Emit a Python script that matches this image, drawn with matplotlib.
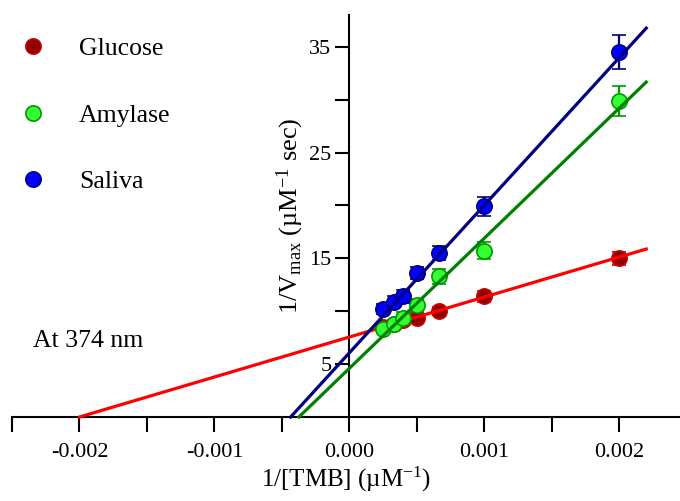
import numpy as np
import matplotlib
matplotlib.use('Agg')
import matplotlib.pyplot as plt
from matplotlib.lines import Line2D

plt.rcParams['font.family'] = ['Liberation Serif', 'DejaVu Serif']
plt.rcParams['mathtext.fontset'] = 'custom'
plt.rcParams['mathtext.rm'] = 'Liberation Serif'
plt.rcParams['mathtext.it'] = 'Liberation Serif:italic'
plt.rcParams['axes.unicode_minus'] = False

# 1/[TMB] values (uM^-1)
inv_tmb = [1/4000, 1/3000, 1/2500, 1/2000, 1/1500, 1/1000, 1/500]

# 1/Vmax values
glucose = [8.5, 8.8, 9.2, 9.4, 10.0, 11.4, 15.0]
glucose_err = [0.4, 0.4, 0.4, 0.4, 0.4, 0.5, 0.6]
amylase = [8.3, 8.8, 9.4, 10.6, 13.3, 15.7, 29.9]
amylase_err = [0.4, 0.4, 0.5, 0.6, 0.7, 0.8, 1.4]
saliva = [10.2, 10.9, 11.4, 13.6, 15.5, 19.9, 34.5]
saliva_err = [0.5, 0.5, 0.6, 0.6, 0.7, 0.9, 1.6]

# fitted lines (slope, intercept)
fits = {'Glucose': (3780, 7.56), 'Amylase': (12300, 4.6), 'Saliva': (13950, 6.07)}
x_end = 0.0022

series = [
    ('Glucose', glucose, glucose_err, '#8e0000', '#d00000', '#ff0000'),
    ('Amylase', amylase, amylase_err, '#33ff33', '#009900', '#008000'),
    ('Saliva', saliva, saliva_err, '#0000ff', '#000080', '#000080'),
]

fig = plt.figure(figsize=(6.8, 5.01), dpi=100)
ax = fig.add_axes([12/680, 84/501, 668/680, 402/501])

handles = []
for i, (name, y, err, face, edge, lc) in enumerate(series):
    ax.errorbar(inv_tmb, y, yerr=err, fmt='o', ms=11, mfc=face, mec=edge, mew=1.2,
                ecolor=edge, elinewidth=1.6, capsize=5, capthick=1.6, zorder=3 + 2*i)
    m, b = fits[name]
    xs = np.array([-b/m, x_end])
    ax.plot(xs, m*xs + b, color=lc, lw=2.3, zorder=4 + 2*i, clip_on=False)
    handles.append(Line2D([], [], ls='none', marker='o', ms=11, mfc=face, mec=edge, mew=1.2, label=name))

ax.set_xlim(-0.0025, 0.00245)
ax.set_ylim(0, 38)

ax.spines['top'].set_visible(False)
ax.spines['right'].set_visible(False)
ax.spines['left'].set_position(('data', 0))
for s in ['left', 'bottom']:
    ax.spines[s].set_linewidth(1.5)

ax.set_xticks([-0.002, -0.001, 0.0, 0.001, 0.002])
ax.set_xticks([-0.0025, -0.0015, -0.0005, 0.0005, 0.0015], minor=True)
ax.set_xticklabels(['%.3f' % v for v in [-0.002, -0.001, 0.0, 0.001, 0.002]])
ax.set_yticks([5, 15, 25, 35])
ax.set_yticks([10, 20, 30], minor=True)
ax.tick_params(axis='x', which='both', direction='out', length=11, width=1.5, labelsize=16, pad=8)
ax.tick_params(axis='y', which='both', direction='out', length=10, width=1.5, labelsize=16, pad=3)

ax.set_xlabel('1/[TMB] (µM$^{-1}$)', fontsize=18, labelpad=2)
ax.set_ylabel('1/V$_{\\mathrm{max}}$ (µM$^{-1}$ sec)', fontsize=19, labelpad=2)

fig.text(33/680, 1 - 341/501, 'At 374 nm', fontsize=18.5, va='center', ha='left')

fig.legend(handles=handles, loc='upper left', bbox_to_anchor=(20/680, 1 - 37/501),
           frameon=False, fontsize=18.5, handlelength=1.0, handletextpad=1.3,
           labelspacing=1.7, borderpad=0, borderaxespad=0)

fig.savefig('out.png', dpi=100)
